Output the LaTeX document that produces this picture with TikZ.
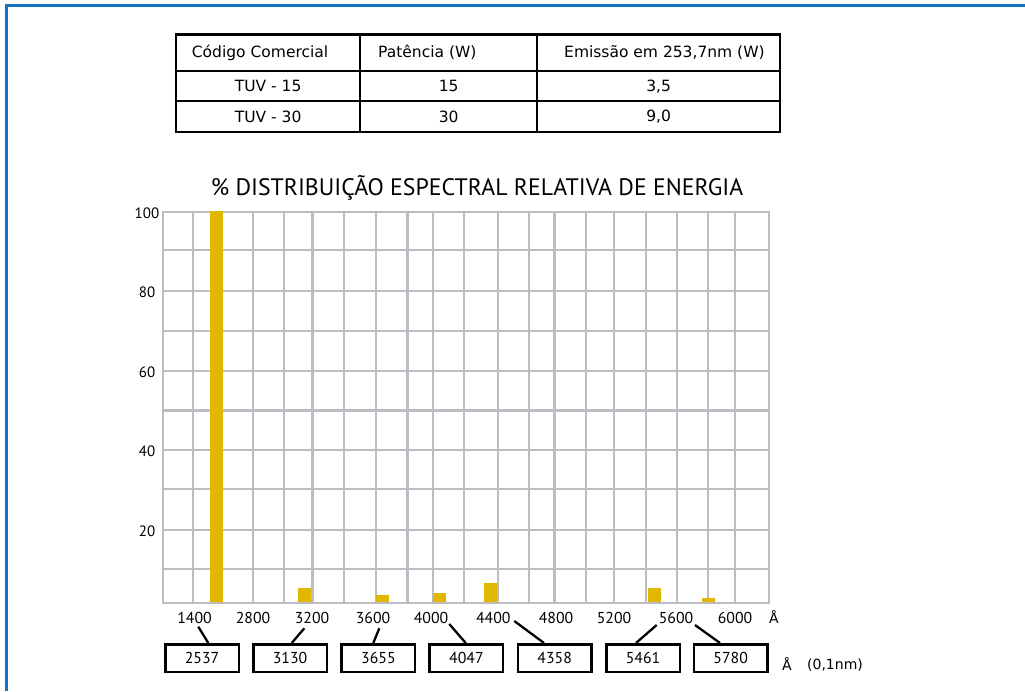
\documentclass[tikz,border=0pt]{standalone}
\usepackage{fontspec}
\setmainfont{DejaVu Sans}
\newfontfamily\chartfont{PT Sans}
\definecolor{frameblue}{RGB}{20,116,196}
\definecolor{gridgray}{RGB}{188,188,194}
\definecolor{bargold}{RGB}{224,184,0}
\tikzset{
  cell/.style={draw, line width=2.3pt, inner sep=0pt, anchor=north west, font=\fontsize{15.5}{18}\selectfont},
  celltext/.style={inner sep=0pt, font=\fontsize{15.5}{18}\selectfont},
  gridline/.style={draw=gridgray, line width=2.8pt, line cap=rect},
  bar/.style={fill=bargold},
  ticklbl/.style={inner sep=0pt, anchor=base, font=\chartfont\fontsize{15.8}{18}\selectfont},
  ylbl/.style={inner sep=0pt, anchor=base, font=\chartfont\fontsize{15}{18}\selectfont},
  waveBox/.style={draw, line width=2.5pt, minimum width=73.5pt, minimum height=27.5pt, inner sep=0pt, font=\chartfont\fontsize{15.8}{18}\selectfont},
  conn/.style={line width=2.3pt},
  unitlbl/.style={inner sep=0pt, anchor=base, font=\fontsize{14}{16}\selectfont},
}
\begin{document}
\begin{tikzpicture}[x=1pt,y=-1pt]
\useasboundingbox (0,0) rectangle (1025,691);
% frame
\draw[frameblue, line width=2.7pt] (6.2,691) -- (6.2,5.5) -- (1025,5.5);

% table
\node[cell, minimum width=184pt, minimum height=36.7pt] (h1) at (175,33.3) {};
\node[cell, minimum width=177pt, minimum height=36.7pt] (h2) at (359,33.3) {};
\node[cell, minimum width=243pt, minimum height=36.7pt] (h3) at (536,33.3) {};
\node[celltext, anchor=west] (t1) at ([xshift=16.7pt]h1.west) {Código Comercial};
\node[celltext, anchor=west] (t2) at ([xshift=19pt]h2.west) {Patência (W)};
\node[celltext, anchor=west] (t3) at ([xshift=28pt]h3.west) {Emissão em 253,7nm (W)};
\node[cell, minimum width=184pt, minimum height=30pt] (r11) at (175,70) {TUV - 15};
\node[cell, minimum width=177pt, minimum height=30pt] (r12) at (359,70) {15};
\node[cell, minimum width=243pt, minimum height=30pt] (r13) at (536,70) {3,5};
\node[cell, minimum width=184pt, minimum height=30.7pt] (r21) at (175,100) {TUV - 30};
\node[cell, minimum width=177pt, minimum height=30.7pt] (r22) at (359,100) {30};
\node[cell, minimum width=243pt, minimum height=30.7pt] (r23) at (536,100) {9,0};

% title
\node[inner sep=0pt, anchor=base, font=\chartfont\fontsize{23.8}{28}\selectfont] (title) at (477,195) {\% DISTRIBUIÇÃO ESPECTRAL RELATIVA DE ENERGIA};

% grid
\foreach \x in {163,193,253,284,312.5,344,376,407.5,433,464,498,529,554.5,586,614,646,677,708,735,769}
  \draw[gridline] (\x,212) -- (\x,603);
\foreach \y in {212,250,291,331,371,410.5,450,489,530,569,603}
  \draw[gridline] (163,\y) -- (769,\y);

% bars
\fill[bar] (210,210.5) rectangle (222.7,601.7);
\fill[bar] (298,587.7) rectangle (311,601.7);
\fill[bar] (375.7,595) rectangle (389,601.7);
\fill[bar] (432.7,593) rectangle (446,601.7);
\fill[bar] (484,583) rectangle (497.3,601.7);
\fill[bar] (648,588) rectangle (661,601.7);
\fill[bar] (702,597.7) rectangle (715,601.7);

% y labels
\node[ylbl] (y100) at (147,218) {100};
\node[ylbl] (y80) at (147,297) {80};
\node[ylbl] (y60) at (147,377) {60};
\node[ylbl] (y40) at (147,456) {40};
\node[ylbl] (y20) at (147,536) {20};

% x labels
\node[ticklbl] (l1400) at (194.5,623.5) {1400};
\node[ticklbl] (l2800) at (253,623.5) {2800};
\node[ticklbl] (l3200) at (312,623.5) {3200};
\node[ticklbl] (l3600) at (373,623.5) {3600};
\node[ticklbl] (l4000) at (431,623.5) {4000};
\node[ticklbl] (l4400) at (493.3,623.5) {4400};
\node[ticklbl] (l4800) at (556,623.5) {4800};
\node[ticklbl] (l5200) at (614,623.5) {5200};
\node[ticklbl] (l5600) at (676,623.5) {5600};
\node[ticklbl] (l6000) at (735,623.5) {6000};
\node[unitlbl] (lA) at (774,623.5) {Å};

% wavelength boxes
\node[waveBox] (b2537) at (202,658) {2537};
\node[waveBox] (b3130) at (290,658) {3130};
\node[waveBox] (b3655) at (378.4,658) {3655};
\node[waveBox] (b4047) at (466.4,658) {4047};
\node[waveBox] (b4358) at (554.7,658) {4358};
\node[waveBox] (b5461) at (643,658) {5461};
\node[waveBox] (b5780) at (730.7,658) {5780};
\node[unitlbl] (uA) at (787,670) {Å};
\node[unitlbl] (unm) at (835,669) {(0,1nm)};

% connectors
\draw[conn] ([shift={(3.8,3.2)}]l1400.base) -- ([xshift=6.3pt]b2537.north);
\draw[conn] ([shift={(-7.7,4.8)}]l3200.base) -- ([xshift=1.7pt]b3130.north);
\draw[conn] ([shift={(6.3,4.8)}]l3600.base) -- ([xshift=-5.1pt]b3655.north);
\draw[conn] ([shift={(18.3,0.5)}]l4000.base) -- ([xshift=-0.7pt]b4047.north);
\draw[conn] ([shift={(21,-2.5)}]l4400.base) -- ([xshift=-10.7pt]b4358.north);
\draw[conn] ([shift={(-19.3,1.5)}]l5600.base) -- ([xshift=-7pt]b5461.north);
\draw[conn] ([shift={(19,1.5)}]l5600.base) -- ([xshift=-10.7pt]b5780.north);
\end{tikzpicture}
\end{document}
